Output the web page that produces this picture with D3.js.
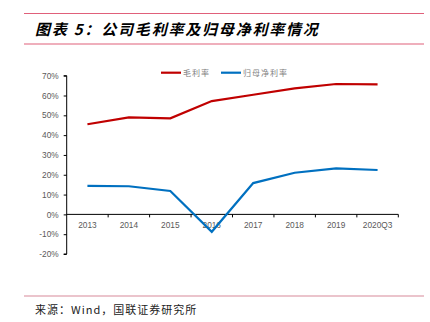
<!DOCTYPE html>
<html><head><meta charset="utf-8">
<script src="https://cdn.jsdelivr.net/npm/d3@7"></script>
<style>body{margin:0;background:#fff;}svg{display:block;}</style>
</head><body>
<svg id="c" width="430" height="322"></svg>
<script>
const categories = ["2013","2014","2015","2016","2017","2018","2019","2020Q3"];
const grossMargin = [45.5, 49.0, 48.5, 57.2, 60.4, 63.6, 65.8, 65.6];
const netMargin = [14.4, 14.2, 11.8, -8.8, 15.8, 21.0, 23.2, 22.4];
const yTicks = [-20,-10,0,10,20,30,40,50,60,70];
const seriesNames = ["毛利率","归母净利率"];
const colors = ["#c00000","#0070c0"];

const svg = d3.select("#c");
const lineColor = "#e0607a";
const cjk = "'Noto Sans CJK SC', sans-serif";

svg.append("line").attr("x1",24).attr("x2",424).attr("y1",13.5).attr("y2",13.5).attr("stroke",lineColor).attr("stroke-width",1.2);
svg.append("line").attr("x1",24).attr("x2",424).attr("y1",44).attr("y2",44).attr("stroke",lineColor).attr("stroke-width",1.2);
svg.append("line").attr("x1",24).attr("x2",424).attr("y1",296).attr("y2",296).attr("stroke","#d88a9a").attr("stroke-width",1.2);

svg.append("text").attr("x",35).attr("y",34.5).attr("font-family",cjk).attr("font-size",15)
  .attr("font-weight","bold").attr("font-style","italic").attr("fill","#000")
  .attr("letter-spacing",1.8).text("图表 5：公司毛利率及归母净利率情况");

svg.append("text").attr("x",35).attr("y",314).attr("font-family",cjk).attr("font-size",11)
  .attr("letter-spacing",1).attr("fill","#222").text("来源：Wind，国联证券研究所");

const x = d3.scaleBand().domain(categories).range([66.7, 398.3]);
const y = d3.scaleLinear().domain([-20,70]).range([254, 75.7]);

// y axis
const yAxis = d3.axisLeft(y).tickValues(yTicks).tickSize(3).tickFormat(d=>d+"%");
const gy = svg.append("g").attr("transform","translate(66.7,0)").call(yAxis);
gy.select(".domain").attr("stroke","#000").attr("d", `M-3,${y(70)}H0V${y(-20)}H-3`);
gy.selectAll(".tick line").attr("stroke","#000");
gy.selectAll(".tick text").attr("fill","#595959").attr("font-family","'Liberation Sans', Arial, sans-serif").attr("font-size",8.3).attr("x",-8);

// x axis at 0
const gx = svg.append("g").attr("transform",`translate(0,${y(0)})`);
gx.append("line").attr("x1",x.range()[0]).attr("x2",x.range()[1]).attr("stroke","#000");
const bounds = categories.map(c=>x(c)).concat([x.range()[1]]);
gx.selectAll("line.tk").data(bounds.slice(1)).enter().append("line").attr("class","tk")
  .attr("x1",d=>d).attr("x2",d=>d).attr("y1",0).attr("y2",3).attr("stroke","#000");
gx.selectAll("text").data(categories).enter().append("text")
  .attr("x",d=>x(d)+x.bandwidth()/2).attr("y",14).attr("text-anchor","middle")
  .attr("fill","#595959").attr("font-family","'Liberation Sans', Arial, sans-serif").attr("font-size",8.3)
  .text(d=>d);

const line = d3.line().x((d,i)=>x(categories[i])+x.bandwidth()/2).y(d=>y(d));
[grossMargin, netMargin].forEach((s,i)=>{
  svg.append("path").datum(s).attr("d",line).attr("fill","none").attr("stroke",colors[i]).attr("stroke-width",2.2);
});

// legend
const leg = [{x:161, tx:183},{x:221, tx:243}];
seriesNames.forEach((n,i)=>{
  svg.append("line").attr("x1",leg[i].x).attr("x2",leg[i].x+20).attr("y1",72.7).attr("y2",72.7).attr("stroke",colors[i]).attr("stroke-width",2.2);
  svg.append("text").attr("x",leg[i].tx).attr("y",75.7).attr("font-family",cjk).attr("font-size",8)
    .attr("letter-spacing",1).attr("fill","#7f7f7f").text(n);
});
</script>
</body></html>
